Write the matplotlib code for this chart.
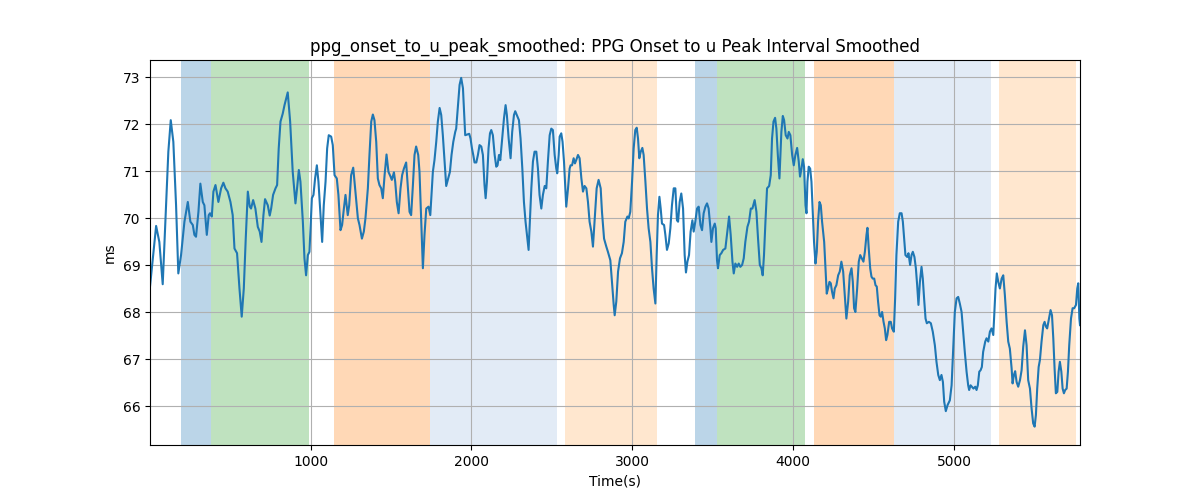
import matplotlib
matplotlib.use("Agg")
import matplotlib.pyplot as plt

time_s = [2, 40, 60, 81, 102, 116, 131, 147, 164, 178, 195, 216, 237, 253, 268, 278, 288, 303, 315, 330,
          340, 355, 367, 375, 386, 396, 409, 427, 444, 458, 471, 485, 502, 516, 527, 543, 558, 572, 585, 597,
          610, 622, 630, 643, 657, 672, 684, 695, 707, 717, 734, 746, 755, 767, 782, 792, 802, 813, 827, 838,
          858, 873, 889, 906, 916, 927, 937, 952, 962, 972,
          983, 993, 1008, 1018, 1028, 1039, 1049, 1062, 1072, 1082, 1093, 1103, 1113, 1128, 1138, 1149, 1163, 1173, 1186, 1196,
          1207, 1217, 1231, 1240, 1252, 1265, 1277, 1287, 1294, 1304, 1319, 1331, 1341, 1356, 1366, 1377, 1387, 1397, 1408, 1418,
          1428, 1439, 1449, 1460, 1472, 1484, 1497, 1505, 1518, 1526, 1536, 1547, 1559, 1569, 1580, 1594, 1605, 1615, 1625, 1636,
          1646, 1656, 1669, 1677, 1688, 1698, 1708, 1719, 1733, 1744, 1754, 1760, 1770, 1781, 1791, 1802, 1812, 1822, 1833, 1843,
          1855, 1866, 1876, 1887, 1899, 1905, 1916, 1926, 1936, 1947, 1953, 1961, 1970,
          1978, 1986, 1994, 2003, 2011, 2019, 2030, 2040, 2050, 2061, 2071, 2081, 2088, 2096, 2106, 2115, 2123, 2133, 2144, 2154,
          2162, 2171, 2179, 2189, 2202, 2212, 2220, 2231, 2243, 2253, 2264, 2272, 2282, 2295, 2305, 2316, 2326, 2336, 2347, 2355,
          2363, 2372, 2382, 2392, 2403, 2413, 2423, 2434, 2444, 2455, 2465, 2475, 2486, 2496, 2506, 2517, 2527, 2533, 2542, 2548,
          2558, 2566, 2575, 2585, 2589, 2600, 2610, 2616, 2625, 2635, 2643, 2651, 2662, 2672, 2683, 2693, 2703, 2714, 2724, 2734,
          2745, 2755, 2765, 2778, 2790, 2803, 2811, 2824, 2838, 2848, 2863, 2873, 2884, 2890, 2900, 2911, 2923, 2935, 2946, 2956,
          2969, 2977, 2987, 2998, 3008, 3018, 3027, 3035, 3043, 3052, 3062, 3070, 3081, 3091, 3101, 3112, 3122, 3132, 3143, 3151,
          3159, 3168, 3176, 3184, 3197, 3205, 3215, 3226, 3236, 3246, 3257, 3267, 3277, 3284, 3294, 3304, 3315, 3325, 3333, 3342,
          3352, 3362, 3373, 3381, 3391, 3402, 3412, 3423, 3433, 3443, 3454, 3464, 3474, 3485, 3491, 3501, 3512, 3518, 3526, 3532,
          3543, 3553, 3564, 3578, 3588, 3601, 3611, 3622, 3630, 3640, 3651, 3661, 3671, 3682, 3692, 3702, 3715, 3725, 3736, 3746,
          3760, 3771, 3781, 3792, 3802, 3810, 3818, 3827, 3837, 3850, 3860, 3868, 3877, 3887, 3895, 3904, 3914, 3926, 3935, 3943,
          3953,
          3964, 3972, 3982, 3993, 4003, 4013, 4024, 4034, 4042, 4051, 4059, 4067, 4076, 4082, 4088, 4096, 4105, 4113, 4121, 4129,
          4138, 4146, 4154, 4163, 4171, 4179, 4192, 4200, 4208, 4216, 4225, 4233, 4241, 4250, 4258, 4268, 4279, 4289, 4299, 4310,
          4320, 4330, 4341, 4351, 4362, 4370, 4378, 4386, 4397, 4407, 4416, 4426, 4436, 4445, 4455, 4461, 4469, 4478, 4486, 4494,
          4503, 4511, 4519, 4527, 4536, 4544, 4552, 4561, 4569, 4577, 4585, 4596, 4606, 4614, 4625, 4633, 4641, 4652, 4662, 4673,
          4681, 4689, 4697, 4708, 4716, 4726, 4735, 4743, 4753, 4762, 4770, 4778, 4787, 4797, 4805, 4813, 4822, 4830, 4843, 4855,
          4867, 4880, 4890, 4901, 4911, 4921, 4930, 4938, 4948, 4959,
          4963, 4973, 4984, 4994, 5004, 5015, 5025, 5035, 5046, 5056, 5066, 5077, 5087, 5093, 5102, 5110, 5120, 5131, 5139, 5147,
          5156, 5164, 5172, 5180, 5193, 5201, 5212, 5222, 5232, 5243, 5249, 5257, 5265, 5274, 5284, 5295, 5305, 5315, 5326, 5336,
          5346, 5357, 5363, 5371, 5379, 5388, 5398, 5409, 5419, 5429, 5440, 5450, 5460, 5471, 5481, 5491, 5500, 5508, 5516, 5525,
          5533, 5543, 5554, 5562, 5570, 5578, 5589, 5599, 5608, 5616, 5624, 5632, 5641, 5649, 5657, 5666, 5674, 5682, 5690, 5699,
          5707, 5715, 5726, 5736, 5746, 5757, 5765, 5771, 5778, 5782]

ms = [68.55, 69.84, 69.50, 68.60, 70.28, 71.42, 72.09, 71.63, 70.28, 68.83, 69.22, 69.93, 70.35, 69.93, 69.86, 69.65, 69.61, 70.14, 70.74, 70.35,
      70.28, 69.65, 70.07, 70.11, 70.04, 70.57, 70.71, 70.35, 70.64, 70.76, 70.64, 70.57, 70.35, 70.07, 69.36, 69.26, 68.51, 67.91, 68.51, 69.57,
      70.57, 70.25, 70.21, 70.39, 70.21, 69.82, 69.72, 69.50, 70.07, 70.41, 70.28, 70.06, 70.21, 70.50, 70.64, 70.71, 71.49, 72.06, 72.23, 72.41,
      72.68, 72.06, 70.99, 70.32, 70.64, 71.03, 70.78, 69.93, 69.15, 68.79,
      69.22, 69.29, 70.43, 70.50, 70.85, 71.13, 70.78, 70.07, 69.50, 70.28, 70.78, 71.49, 71.77, 71.74, 71.56, 70.92, 70.85, 70.50, 69.75, 69.86,
      70.21, 70.50, 70.07, 70.28, 70.92, 71.08, 70.64, 70.28, 70.00, 69.86, 69.57, 69.72, 70.00, 70.64, 71.35, 72.06, 72.21, 72.09, 71.63, 70.85,
      70.71, 70.64, 70.43, 70.92, 71.36, 70.99, 70.89, 70.82, 70.98, 70.78, 70.35, 70.11, 70.64, 70.92, 71.06, 71.19, 70.64, 70.14, 70.07, 70.71,
      71.35, 71.53, 71.35, 70.99, 69.93, 68.94, 69.65, 70.21, 70.25, 70.07, 70.64, 70.99, 71.24, 71.63, 72.06, 72.35, 72.20, 71.77, 71.21, 70.69,
      70.85, 70.99, 71.35, 71.63, 71.84, 71.91, 72.41, 72.84, 72.99, 72.77, 72.34, 71.77, 71.78,
      71.79, 71.80, 71.70, 71.49, 71.35, 71.19, 71.19, 71.35, 71.56, 71.53, 71.35, 70.71, 70.43, 70.78, 71.49, 71.81, 71.88, 71.77, 71.35, 71.10,
      71.13, 71.35, 71.24, 71.63, 72.13, 72.41, 72.20, 71.70, 71.28, 71.84, 72.20, 72.28, 72.20, 72.09, 71.70, 71.06, 70.35, 69.93, 69.57, 69.33,
      69.93, 70.64, 71.21, 71.42, 71.42, 71.06, 70.50, 70.21, 70.50, 70.69, 70.64, 71.21, 71.77, 71.91, 71.88, 71.35, 71.06, 70.96, 71.35, 71.74,
      71.81, 71.63, 71.21, 70.50, 70.25, 70.64, 71.06, 71.13, 71.13, 71.28, 71.17, 71.24, 71.35, 71.28, 70.85, 70.57, 70.69, 70.64, 70.35, 69.93,
      69.72, 69.40, 69.93, 70.64, 70.82, 70.64, 70.14, 69.57, 69.40, 69.29, 69.11, 68.65, 68.16, 67.94, 68.23, 68.87, 69.15, 69.26, 69.50, 69.93,
      70.04, 70.00, 70.14, 70.78, 71.49, 71.88, 71.93, 71.70, 71.28, 71.42, 71.50, 71.35, 70.78, 70.21, 69.79, 69.50, 68.94, 68.51, 68.19, 69.22,
      70.07, 70.46, 70.21, 69.89, 69.86, 69.65, 69.33, 69.47, 69.79, 70.28, 70.64, 70.64, 69.96, 69.93, 70.35, 70.53, 70.21, 69.22, 68.85, 69.08,
      69.22, 69.72, 69.96, 69.72, 69.93, 70.21, 70.25, 69.86, 69.75, 70.11, 70.25, 70.32, 70.21, 69.79, 69.50, 69.79, 69.89, 69.79, 69.11, 68.94,
      69.22, 69.26, 69.33, 69.36, 69.65, 70.04, 69.65, 69.08, 68.83, 69.04, 68.97, 69.04, 68.97, 69.01, 69.15, 69.50, 69.82, 69.93, 70.21, 70.21,
      70.39, 70.14, 69.57, 69.01, 68.94, 68.79, 69.22, 69.93, 70.64, 70.69, 70.92, 71.70, 72.06, 72.14, 71.91, 71.35, 70.85, 71.84, 72.18, 72.09,
      71.77,
      71.70, 71.84, 71.77, 71.35, 71.13, 71.35, 71.50, 71.21, 70.89, 71.06, 71.26, 71.10, 70.28, 70.11, 70.78, 71.10, 71.06, 70.78, 70.14, 69.50,
      69.04, 69.29, 69.93, 70.35, 70.28, 69.93, 69.50, 68.94, 68.40, 68.51, 68.65, 68.62, 68.44, 68.30, 68.51, 68.58, 68.79, 68.87, 69.08, 68.87,
      68.37, 67.87, 68.23, 68.79, 68.94, 68.65, 68.09, 68.01, 68.51, 69.08, 69.22, 69.15, 69.08, 69.29, 69.65, 69.80, 69.36, 68.94, 68.76, 68.72,
      68.72, 68.58, 68.55, 68.23, 67.94, 67.91, 68.01, 67.80, 67.66, 67.41, 67.52, 67.80, 67.80, 67.66, 67.59, 68.30, 69.22, 69.93, 70.11, 70.11,
      69.93, 69.57, 69.22, 69.18, 69.26, 69.01, 69.22, 69.29, 69.18, 68.94, 68.58, 68.16, 68.65, 68.97, 68.72, 68.30, 67.87, 67.77, 67.80, 67.77,
      67.59, 67.30, 66.95, 66.67, 66.56, 66.67, 66.52, 66.10, 65.90, 66.03,
      66.06, 66.13, 66.45, 67.23, 68.01, 68.30, 68.33, 68.19, 68.01, 67.59, 67.16, 66.74, 66.45, 66.35, 66.45, 66.42, 66.38, 66.42, 66.35, 66.45,
      66.74, 66.77, 66.84, 67.16, 67.38, 67.45, 67.38, 67.59, 67.66, 67.52, 67.94, 68.51, 68.83, 68.65, 68.51, 68.72, 68.79, 68.37, 67.80, 67.38,
      67.23, 66.81, 66.49, 66.67, 66.75, 66.52, 66.42, 66.56, 66.77, 67.27, 67.62, 67.30, 66.56, 66.38, 65.96, 65.64, 65.57, 65.82, 66.38, 66.84,
      66.99, 67.38, 67.73, 67.80, 67.70, 67.66, 67.87, 68.05, 67.94, 67.45, 66.81, 66.28, 66.31, 66.74, 66.95, 66.74, 66.38, 66.28, 66.35, 66.38,
      66.74, 67.30, 67.87, 68.09, 68.09, 68.16, 68.51, 68.62, 67.87, 67.73]

span_starts = [197, 380, 1144, 1743, 2579, 3387, 3526, 4129, 4623, 5278]
span_ends = [380, 993, 1743, 2529, 3155, 3526, 4071, 4623, 5226, 5757]
span_colors = ["#1f77b4", "#2ca02c", "#ff7f0e", "#aec7e8", "#ffbb78",
               "#1f77b4", "#2ca02c", "#ff7f0e", "#aec7e8", "#ffbb78"]
span_alphas = [0.3, 0.3, 0.3, 0.35, 0.35, 0.3, 0.3, 0.3, 0.35, 0.35]

fig, ax = plt.subplots(figsize=(12, 5), dpi=100)
for s, e, c, a in zip(span_starts, span_ends, span_colors, span_alphas):
    ax.axvspan(s, e, color=c, alpha=a, linewidth=0)
ax.plot(time_s, ms, color="#1f77b4", linewidth=1.5)
ax.set_xlim(time_s[0], time_s[-1])
ax.set_ylim(65.18, 73.37)
ax.grid(True)
ax.set_title("ppg_onset_to_u_peak_smoothed: PPG Onset to u Peak Interval Smoothed")
ax.set_xlabel("Time(s)")
ax.set_ylabel("ms")
fig.savefig("out.png", dpi=100)
